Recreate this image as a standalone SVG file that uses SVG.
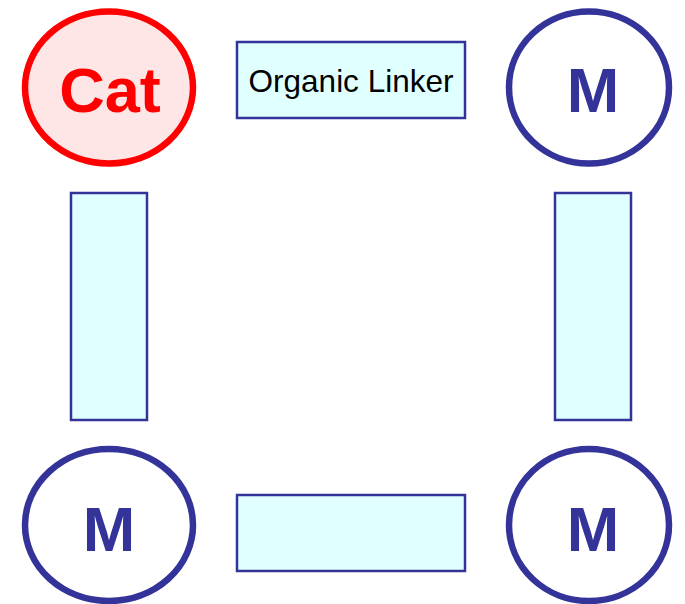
<svg xmlns="http://www.w3.org/2000/svg" width="685" height="604" viewBox="0 0 685 604">
  <style>
    .m { fill: #ffffff; stroke: #333399; stroke-width: 6.5; }
    .cat { fill: #ffe6e6; stroke: #ff0000; stroke-width: 6.5; }
    .link { fill: #e0ffff; stroke: #333399; stroke-width: 2.5; }
    .big { font-family: "Liberation Sans", Arial, sans-serif; font-weight: bold; font-size: 63px; text-anchor: middle; }
    .lbl { font-family: "Liberation Sans", Arial, sans-serif; font-size: 31.5px; text-anchor: middle; fill: #000000; }
  </style>
  <rect width="685" height="604" fill="#ffffff"/>
  <g id="connectors">
    <g id="linker-top">
      <rect class="link" x="237" y="42" width="228" height="76"/>
      <text class="lbl" x="351" y="92">Organic Linker</text>
    </g>
    <rect id="linker-left" class="link" x="71" y="193" width="76" height="227"/>
    <rect id="linker-right" class="link" x="555" y="193" width="76" height="227"/>
    <rect id="linker-bottom" class="link" x="237" y="495" width="228" height="76"/>
  </g>
  <g id="cat">
    <ellipse class="cat" cx="109" cy="87.5" rx="84" ry="76"/>
    <text class="big" x="110" y="112" fill="#ff0000">Cat</text>
  </g>
  <g id="m-top-right">
    <ellipse class="m" cx="589" cy="87.5" rx="80" ry="76"/>
    <text class="big" x="593" y="112" fill="#333399">M</text>
  </g>
  <g id="m-bottom-left">
    <ellipse class="m" cx="109" cy="525" rx="84" ry="76"/>
    <text class="big" x="109" y="551" fill="#333399">M</text>
  </g>
  <g id="m-bottom-right">
    <ellipse class="m" cx="589" cy="525" rx="80" ry="76"/>
    <text class="big" x="593" y="551" fill="#333399">M</text>
  </g>
</svg>
